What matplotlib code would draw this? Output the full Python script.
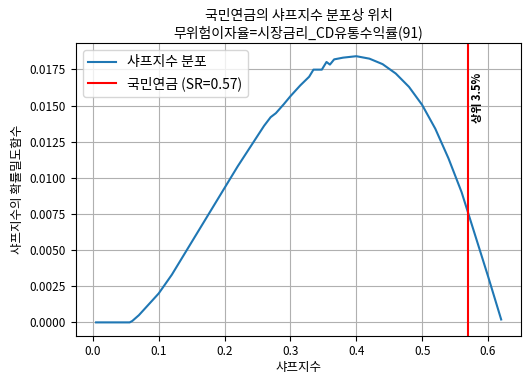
import matplotlib
matplotlib.use("Agg")
import matplotlib.pyplot as plt

plt.rcParams['font.family'] = ['Noto Sans CJK KR', 'DejaVu Sans']
plt.rcParams['axes.unicode_minus'] = False

# 샤프지수 분포 (KDE 곡선에서 읽은 값)
sharpe = [0.005, 0.056, 0.06, 0.07, 0.08, 0.09, 0.10, 0.12, 0.14, 0.16,
          0.18, 0.20, 0.22, 0.24, 0.26, 0.27, 0.278, 0.29, 0.30, 0.315,
          0.3285, 0.335, 0.3477, 0.3548, 0.360, 0.3664, 0.38, 0.40, 0.42, 0.44,
          0.46, 0.48, 0.50, 0.52, 0.54, 0.56, 0.58, 0.60, 0.62]
density = [0.0, 0.0, 0.0001, 0.0005, 0.0010, 0.0015, 0.0020, 0.0033, 0.0048, 0.0063,
           0.0078, 0.0093, 0.0108, 0.0122, 0.0136, 0.0142, 0.01448, 0.0151, 0.01565, 0.0164,
           0.0170, 0.01749, 0.01749, 0.01802, 0.01784, 0.0182, 0.01832, 0.01842, 0.01825, 0.01787,
           0.01722, 0.0163, 0.01505, 0.0134, 0.01135, 0.0090, 0.0061, 0.0032, 0.0002]

nps_sr = 0.57
top_pct = 3.5

fig = plt.figure(figsize=(5.23, 3.73), dpi=100)
ax = fig.add_axes([0.145, 0.10, 0.852, 0.785])

ax.plot(sharpe, density, color='#1f77b4', label='샤프지수 분포')
ax.axvline(nps_sr, color='red', label=f'국민연금 (SR={nps_sr})')
ax.text(nps_sr + 0.004, 0.01555, f'상위 {top_pct}%', rotation=90, va='center', ha='left',
        fontsize=8, fontweight='bold')

ax.set_title('국민연금의 샤프지수 분포상 위치\n무위험이자율=시장금리_CD유통수익률(91)', fontsize=10, pad=4)
ax.set_xlabel('샤프지수', fontsize=9, labelpad=2)
ax.set_ylabel('샤프지수의 확률밀도함수', fontsize=9)
ax.tick_params(labelsize=8.5)
ax.grid(True)
ax.legend(loc='upper left', fontsize=10)

fig.savefig('out.png', dpi=100)
